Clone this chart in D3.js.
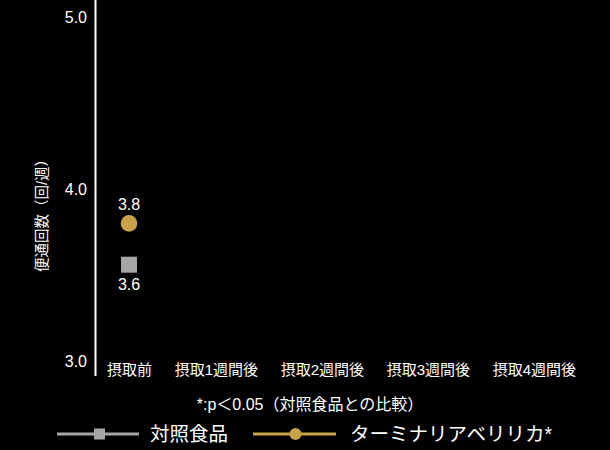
<!DOCTYPE html>
<html>
<head>
<meta charset="utf-8">
<script src="https://cdn.jsdelivr.net/npm/d3@7"></script>
<style>
  body { margin: 0; background: #000; }
  text { font-family: "Liberation Sans", "Noto Sans CJK JP", sans-serif; fill: #fff; }
</style>
</head>
<body>
<div id="chart"></div>
<script>
var categories = ["摂取前", "摂取1週間後", "摂取2週間後", "摂取3週間後", "摂取4週間後"];
var controlValues = [3.56, null, null, null, null];
var terminaliaValues = [3.8, null, null, null, null];
var yTicks = [3.0, 4.0, 5.0];
var seriesNames = ["対照食品", "ターミナリアベリリカ*"];
var note = "*:p＜0.05（対照食品との比較）";
var yTitle = "便通回数（回/週）";

var gray = "#a6a6a6", gold = "#c8a24a";
var width = 610, height = 450;

var svg = d3.select("#chart").append("svg")
  .attr("width", width)
  .attr("height", height)
  .style("background", "#000");

var y = d3.scaleLinear().domain([3, 5]).range([361, 17]);
var x = d3.scalePoint().domain(categories).range([129, 553]);

// y axis line + tick labels
svg.append("line")
  .attr("x1", 95.5).attr("x2", 95.5)
  .attr("y1", 0).attr("y2", 376)
  .attr("stroke", "#fff").attr("stroke-width", 2);

svg.selectAll(".ytick").data(yTicks).enter().append("text")
  .attr("class", "ytick")
  .attr("x", 87)
  .attr("y", d => y(d))
  .attr("dy", "0.35em")
  .attr("text-anchor", "end")
  .style("font-size", "16px")
  .text(d => d3.format(".1f")(d));

svg.append("text")
  .attr("transform", "translate(42," + 212 + ") rotate(-90)")
  .attr("text-anchor", "middle")
  .attr("dy", "0.35em")
  .style("font-size", "14.5px")
  .text(yTitle);

// x labels (right-aligned)
svg.selectAll(".xtick").data(categories).enter().append("text")
  .attr("class", "xtick")
  .attr("x", d => x(d) + 23)
  .attr("y", 370)
  .attr("dy", "0.35em")
  .attr("text-anchor", "end")
  .style("font-size", "15px")
  .text(d => d);

// control series (squares)
var ctrl = categories.map((c, i) => ({ c: c, v: controlValues[i] })).filter(d => d.v != null);
svg.selectAll(".sq").data(ctrl).enter().append("rect")
  .attr("x", d => x(d.c) - 8)
  .attr("y", d => y(d.v) - 8)
  .attr("width", 16).attr("height", 16)
  .attr("fill", gray);
svg.selectAll(".sqlab").data(ctrl).enter().append("text")
  .attr("x", d => x(d.c))
  .attr("y", d => y(d.v) + 20)
  .attr("dy", "0.35em")
  .attr("text-anchor", "middle")
  .style("font-size", "16px")
  .text(d => d3.format(".1f")(d.v));

// terminalia series (circles)
var term = categories.map((c, i) => ({ c: c, v: terminaliaValues[i] })).filter(d => d.v != null);
svg.selectAll(".dot").data(term).enter().append("circle")
  .attr("cx", d => x(d.c))
  .attr("cy", d => y(d.v))
  .attr("r", 8.3)
  .attr("fill", gold);
svg.selectAll(".dotlab").data(term).enter().append("text")
  .attr("x", d => x(d.c))
  .attr("y", d => y(d.v) - 19)
  .attr("dy", "0.35em")
  .attr("text-anchor", "middle")
  .style("font-size", "16px")
  .text(d => d3.format(".1f")(d.v));

// footnote
svg.append("text")
  .attr("x", 310).attr("y", 404)
  .attr("dy", "0.35em")
  .attr("text-anchor", "middle")
  .style("font-size", "16px")
  .text(note);

// legend
var lg = svg.append("g").attr("transform", "translate(0,434)");
lg.append("line").attr("x1", 57).attr("x2", 139).attr("y1", 0).attr("y2", 0)
  .attr("stroke", gray).attr("stroke-width", 3);
lg.append("rect").attr("x", 94).attr("y", -5.5).attr("width", 11).attr("height", 11).attr("fill", gray);
lg.append("text").attr("x", 150).attr("y", 0).attr("dy", "0.35em")
  .style("font-size", "19.5px").text(seriesNames[0]);

lg.append("line").attr("x1", 253).attr("x2", 336).attr("y1", 0).attr("y2", 0)
  .attr("stroke", gold).attr("stroke-width", 3);
lg.append("circle").attr("cx", 295.5).attr("cy", 0).attr("r", 6).attr("fill", gold);
lg.append("text").attr("x", 350).attr("y", 0).attr("dy", "0.35em")
  .style("font-size", "19.5px").text(seriesNames[1]);
</script>
</body>
</html>
